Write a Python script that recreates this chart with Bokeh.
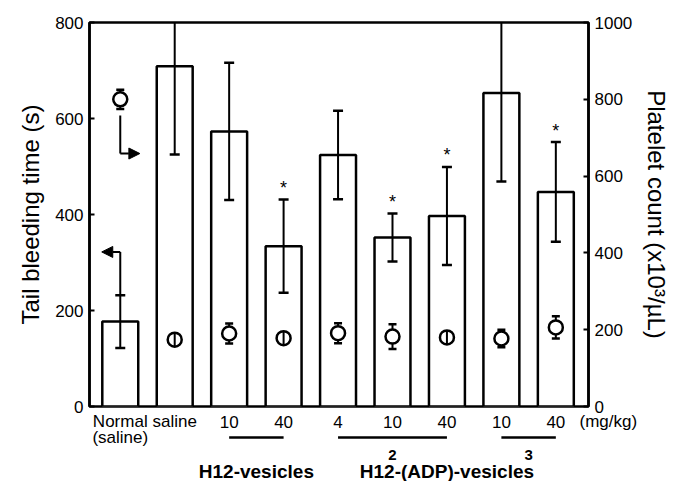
from bokeh.plotting import figure
from bokeh.layouts import column
from bokeh.models import Range1d, LinearAxis, FixedTicker, Arrow, NormalHead
from bokeh.embed import file_html
from bokeh.resources import INLINE
from bokeh.core.properties import value
import numpy as np

# ---------------- data ----------------
positions = [1, 2, 3, 4, 5, 6, 7, 8, 9]
tick_labels = ["Normal", "saline", "10", "40", "4", "10", "40", "10", "40"]
tick_labels_2 = ["(saline)", "", "", "", "", "", "", "", ""]
bleed_mean = [177, 709, 573, 334, 524, 352, 397, 653, 447]      # Tail bleeding time (s)
bleed_sd = [55, 184, 143, 97, 92, 50, 102, 184, 104]
platelet_mean = [800, 174, 190, 178, 191, 182, 180, 177, 206]   # x10^3/uL
platelet_sd = [25, 17, 26, 17, 26, 32, 17, 23, 29]
significant = [False, False, False, True, False, True, True, False, True]
left_ticks = [0, 200, 400, 600, 800]
right_ticks = [0, 200, 400, 600, 800, 1000]
dose_unit = "(mg/kg)"
underlines = [(3, 4, ""), (5, 7, "2"), (8, 9, "3")]
group_names = [("H12-vesicles", 3, 4), ("H12-(ADP)-vesicles", 5, 9)]

FONT = "Liberation Sans"
W = 673
FL, FR, FT, FB = 89, 592, 22, 406      # frame edges in pixels
XR = (0.435, 9.6)
H1 = 416                               # main plot height
OVER = 6                               # strip overlaps the main plot's bottom border
H2 = 481 - H1 + OVER

# ---------------- main figure ----------------
p = figure(width=W, height=H1, x_range=Range1d(*XR), y_range=Range1d(0, 800),
           x_axis_location=None, output_backend="svg", toolbar_location=None,
           min_border_left=FL, min_border_right=W - FR, min_border_top=FT,
           min_border_bottom=H1 - FB)
p.extra_y_ranges = {"plt": Range1d(0, 1000)}
p.grid.visible = False
p.outline_line_color = "black"
p.outline_line_width = 2.5
p.background_fill_color = "white"
p.border_fill_color = "white"

# bars
x = np.array(positions, dtype=float)
bm = np.array(bleed_mean, dtype=float)
bs = np.array(bleed_sd, dtype=float)
p.vbar(x=x, top=bm, bottom=0, width=0.66, fill_color="white", line_color="black", line_width=2.5)
p.segment(x0=x, y0=bm - bs, x1=x, y1=bm + bs, line_color="black", line_width=2)
p.scatter(x=np.concatenate([x, x]), y=np.concatenate([bm - bs, bm + bs]), marker="dash",
          size=10, line_color="black", line_width=2.5)

# significance stars
sig = np.array(significant)
p.text(x=x[sig], y=(bm + bs)[sig] + 24, text=["*"] * int(sig.sum()),
       text_font=value(FONT), text_font_size="18px", text_align="center",
       text_baseline="middle", text_color="black")

# platelet count
pm = np.array(platelet_mean, dtype=float)
ps = np.array(platelet_sd, dtype=float)
inner = ps < 20
outer = ~inner
p.segment(x0=x[outer], y0=(pm - ps)[outer], x1=x[outer], y1=(pm + ps)[outer],
          line_color="black", line_width=2, y_range_name="plt")
p.scatter(x=np.concatenate([x[outer], x[outer]]),
          y=np.concatenate([(pm - ps)[outer], (pm + ps)[outer]]), marker="dash",
          size=8, line_color="black", line_width=2.5, y_range_name="plt")
p.scatter(x=x, y=pm, marker="circle", size=14, fill_color="white", line_color="black",
          line_width=2.5, y_range_name="plt")
p.segment(x0=x[inner], y0=(pm - ps)[inner], x1=x[inner], y1=(pm + ps)[inner],
          line_color="black", line_width=2, y_range_name="plt")

# pointer arrows (which axis each series belongs to)
circ_left = platelet_mean[0] * 800 / 1000.0
p.add_layout(Arrow(end=None, x_start=1, y_start=circ_left - 34, x_end=1, y_end=circ_left - 113,
                   line_width=2, line_color="black"))
p.add_layout(Arrow(end=NormalHead(size=11, fill_color="black", line_color="black"),
                   x_start=1, y_start=circ_left - 113, x_end=1.36, y_end=circ_left - 113,
                   line_width=2, line_color="black"))
bar_top = bleed_mean[0] + bleed_sd[0]
p.add_layout(Arrow(end=None, x_start=1, y_start=bar_top, x_end=1, y_end=bar_top + 90,
                   line_width=2, line_color="black"))
p.add_layout(Arrow(end=NormalHead(size=11, fill_color="black", line_color="black"),
                   x_start=1, y_start=bar_top + 90, x_end=0.66, y_end=bar_top + 90,
                   line_width=2, line_color="black"))

# y axes
ya = p.yaxis[0]
ya.ticker = FixedTicker(ticks=left_ticks)
ya.axis_label = "Tail bleeding time (s)"
ra = LinearAxis(y_range_name="plt", ticker=FixedTicker(ticks=right_ticks),
                axis_label="Platelet count (x10³/µL)")
p.add_layout(ra, "right")
for ax in (ya, ra):
    ax.major_tick_in = 5
    ax.major_tick_out = 0
    ax.major_tick_line_width = 2
    ax.minor_tick_line_color = None
    ax.axis_line_width = 2.5
    ax.major_label_text_font = FONT
    ax.major_label_text_font_size = "17px"
    ax.major_label_text_color = "black"
    ax.major_label_standoff = 6
    ax.axis_label_text_font = FONT
    ax.axis_label_text_font_size = "24px"
    ax.axis_label_text_font_style = "normal"
    ax.axis_label_text_color = "black"
    ax.axis_label_standoff = 8

# ---------------- strip below the x axis (category labels) ----------------
# transparent strip, pulled up slightly so it overlaps the main plot's bottom border;
# its frame is aligned with the main frame by the column layout, so it shares the x range
q = figure(width=W, height=H2, x_range=p.x_range,
           y_range=Range1d(H2, 0),   # y in pixels downward from the strip top
           x_axis_location=None, y_axis_location=None, output_backend="svg",
           toolbar_location=None, min_border_left=FL, min_border_right=W - FR,
           min_border_top=0, min_border_bottom=0)
q.styles = {"margin-top": "-%dpx" % OVER}
q.grid.visible = False
q.outline_line_color = None
q.background_fill_color = None
q.border_fill_color = None

q.text(x=x, y=[11] * len(positions), text=tick_labels, text_font=value(FONT),
       text_font_size="17px", text_align="center", text_baseline="alphabetic",
       text_color="black")
q.text(x=x, y=[27] * len(positions), text=tick_labels_2, text_font=value(FONT),
       text_font_size="17px", text_align="center", text_baseline="alphabetic",
       text_color="black")
q.segment(x0=[u[0] for u in underlines], x1=[u[1] for u in underlines],
          y0=[27] * len(underlines), y1=[27] * len(underlines),
          line_color="black", line_width=2.5)
q.text(x=[(u[0] + u[1]) / 2.0 for u in underlines], y=[44] * len(underlines),
       text=[u[2] for u in underlines], text_font=value(FONT), text_font_size="15px",
       text_font_style="bold", text_align="center", text_baseline="alphabetic",
       text_color="black")
q.text(x=[(g[1] + g[2]) / 2.0 for g in group_names], y=[61] * len(group_names),
       text=[g[0] for g in group_names], text_font=value(FONT), text_font_size="19px",
       text_font_style="bold", text_align="center", text_baseline="alphabetic",
       text_color="black")

# dose unit sits beyond the frame's right edge: carried by an unlined axis on that side
unit_axis = LinearAxis(ticker=FixedTicker(ticks=[11]), major_label_overrides={11: dose_unit})
unit_axis.axis_line_color = None
unit_axis.major_tick_line_color = None
unit_axis.minor_tick_line_color = None
unit_axis.major_tick_in = 0
unit_axis.major_tick_out = 0
unit_axis.major_label_standoff = -9
unit_axis.major_label_text_font = FONT
unit_axis.major_label_text_font_size = "17px"
unit_axis.major_label_text_color = "black"
q.add_layout(unit_axis, "right")

layout = column(p, q, spacing=0)
open("out.html", "w").write(file_html(layout, INLINE))
